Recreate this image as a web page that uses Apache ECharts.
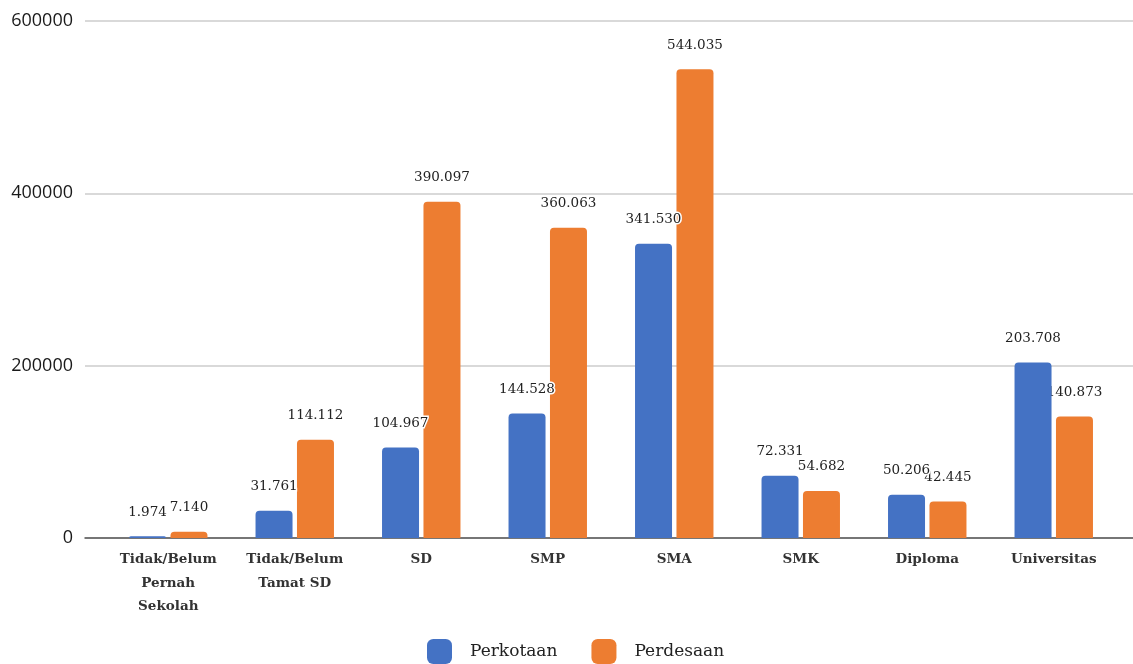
<!DOCTYPE html>
<html>
<head>
<meta charset="utf-8">
<script src="https://cdn.jsdelivr.net/npm/echarts@6/dist/echarts.min.js"></script>
<style>
  html, body { margin: 0; padding: 0; background: #fff; }
  #chart { width: 1133px; height: 664px; }
</style>
</head>
<body>
<div id="chart"></div>
<script>
// Education level categories and population counts by area type
const categories = [
  'Tidak/Belum\nPernah\nSekolah',
  'Tidak/Belum\nTamat SD',
  'SD',
  'SMP',
  'SMA',
  'SMK',
  'Diploma',
  'Universitas'
];
const perkotaan = [1974, 31761, 104967, 144528, 341530, 72331, 50206, 203708];
const perdesaan = [7140, 114112, 390097, 360063, 544035, 54682, 42445, 140873];
const yTicks = [0, 200000, 400000, 600000];

const serif = '"DejaVu Serif", serif';

// Thousands separated with dots
function fmt(v) {
  return String(v).replace(/\B(?=(\d{3})+(?!\d))/g, '.');
}

const chart = echarts.init(document.getElementById('chart'));

const labelStyle = {
  show: true,
  position: 'top',
  distance: 17,
  fontFamily: serif,
  fontSize: 13.5,
  color: '#222',
  textBorderColor: '#fff',
  textBorderWidth: 3,
  formatter: p => fmt(p.value)
};

chart.setOption({
  animation: false,
  legend: {
    bottom: 0,
    left: 427,
    padding: 0,
    itemWidth: 25,
    itemHeight: 25,
    itemGap: 34,
    icon: 'roundRect',
    textStyle: { fontFamily: serif, fontSize: 17, color: '#222', padding: [0, 0, 0, 13] },
    data: ['Perkotaan', 'Perdesaan']
  },
  grid: [
    // wide grid carrying the value axis, gridlines and baseline
    { left: 85, right: 0, top: 21, bottom: 126 },
    // narrower grid holding the category bars
    { left: 105, right: 16, top: 21, bottom: 126 }
  ],
  xAxis: [
    {
      gridIndex: 0, type: 'value', min: 0, max: 1,
      axisLine: { show: true, onZero: false, lineStyle: { color: '#555', width: 1.5 } },
      axisTick: { show: false },
      axisLabel: { show: false }, splitLine: { show: false }
    },
    {
      gridIndex: 1, type: 'category', data: categories,
      axisLine: { show: false },
      axisTick: { show: false },
      axisLabel: {
        interval: 0,
        margin: 10,
        fontFamily: serif,
        fontWeight: 'bold',
        fontSize: 13.5,
        lineHeight: 23.5,
        color: '#333'
      }
    }
  ],
  yAxis: [
    {
      gridIndex: 0, type: 'value', min: yTicks[0], max: yTicks[yTicks.length - 1],
      interval: yTicks[1] - yTicks[0],
      axisLine: { show: false }, axisTick: { show: false },
      axisLabel: {
        margin: 12,
        fontFamily: '"Open Sans", sans-serif',
        fontSize: 18,
        color: '#1a1a1a',
        formatter: v => String(v)
      },
      splitLine: { lineStyle: { color: '#cccccc', width: 1.5 } }
    },
    {
      gridIndex: 1, type: 'value', min: yTicks[0], max: yTicks[yTicks.length - 1],
      interval: yTicks[1] - yTicks[0],
      axisLine: { show: false }, axisTick: { show: false },
      axisLabel: { show: false }, splitLine: { show: false }
    }
  ],
  series: [
    {
      name: 'Perkotaan',
      type: 'bar',
      xAxisIndex: 1,
      yAxisIndex: 1,
      data: perkotaan,
      barWidth: 37,
      barGap: '12%',
      itemStyle: { color: '#4472C4', borderRadius: [4, 4, 0, 0] },
      label: labelStyle,
      z: 3
    },
    {
      name: 'Perdesaan',
      type: 'bar',
      xAxisIndex: 1,
      yAxisIndex: 1,
      data: perdesaan,
      barWidth: 37,
      barGap: '12%',
      itemStyle: { color: '#ED7D31', borderRadius: [4, 4, 0, 0] },
      label: labelStyle,
      z: 2
    }
  ]
});
</script>
</body>
</html>
